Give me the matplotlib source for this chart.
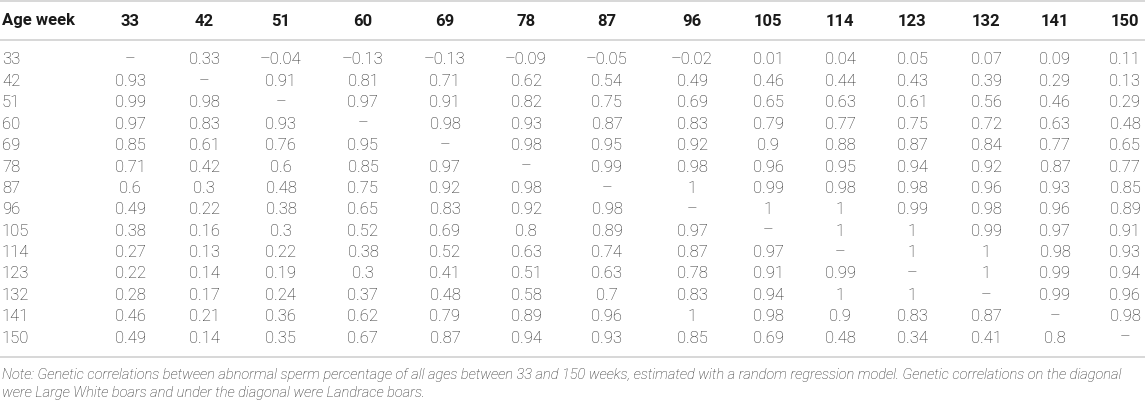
import matplotlib.pyplot as plt
from matplotlib.lines import Line2D

# ages (weeks) used as both row and column headers
ages = [33, 42, 51, 60, 69, 78, 87, 96, 105, 114, 123, 132, 141, 150]

# one list per row; None marks the diagonal
row_33 = [None, 0.33, -0.04, -0.13, -0.13, -0.09, -0.05, -0.02, 0.01, 0.04, 0.05, 0.07, 0.09, 0.11]
row_42 = [0.93, None, 0.91, 0.81, 0.71, 0.62, 0.54, 0.49, 0.46, 0.44, 0.43, 0.39, 0.29, 0.13]
row_51 = [0.99, 0.98, None, 0.97, 0.91, 0.82, 0.75, 0.69, 0.65, 0.63, 0.61, 0.56, 0.46, 0.29]
row_60 = [0.97, 0.83, 0.93, None, 0.98, 0.93, 0.87, 0.83, 0.79, 0.77, 0.75, 0.72, 0.63, 0.48]
row_69 = [0.85, 0.61, 0.76, 0.95, None, 0.98, 0.95, 0.92, 0.9, 0.88, 0.87, 0.84, 0.77, 0.65]
row_78 = [0.71, 0.42, 0.6, 0.85, 0.97, None, 0.99, 0.98, 0.96, 0.95, 0.94, 0.92, 0.87, 0.77]
row_87 = [0.6, 0.3, 0.48, 0.75, 0.92, 0.98, None, 1, 0.99, 0.98, 0.98, 0.96, 0.93, 0.85]
row_96 = [0.49, 0.22, 0.38, 0.65, 0.83, 0.92, 0.98, None, 1, 1, 0.99, 0.98, 0.96, 0.89]
row_105 = [0.38, 0.16, 0.3, 0.52, 0.69, 0.8, 0.89, 0.97, None, 1, 1, 0.99, 0.97, 0.91]
row_114 = [0.27, 0.13, 0.22, 0.38, 0.52, 0.63, 0.74, 0.87, 0.97, None, 1, 1, 0.98, 0.93]
row_123 = [0.22, 0.14, 0.19, 0.3, 0.41, 0.51, 0.63, 0.78, 0.91, 0.99, None, 1, 0.99, 0.94]
row_132 = [0.28, 0.17, 0.24, 0.37, 0.48, 0.58, 0.7, 0.83, 0.94, 1, 1, None, 0.99, 0.96]
row_141 = [0.46, 0.21, 0.36, 0.62, 0.79, 0.89, 0.96, 1, 0.98, 0.9, 0.83, 0.87, None, 0.98]
row_150 = [0.49, 0.14, 0.35, 0.67, 0.87, 0.94, 0.93, 0.85, 0.69, 0.48, 0.34, 0.41, 0.8, None]

rows = [row_33, row_42, row_51, row_60, row_69, row_78, row_87,
        row_96, row_105, row_114, row_123, row_132, row_141, row_150]

note = ("Note: Genetic correlations between abnormal sperm percentage of all ages between 33 and 150 weeks, "
        "estimated with a random regression model. Genetic correlations on the diagonal\n"
        "were Large White boars and under the diagonal were Landrace boars.")


def fmt(v):
    if v is None:
        return "\u2013"
    return f"{v:g}".replace("-", "\u2013")


W, H = 1145, 403
fig = plt.figure(figsize=(W / 100, H / 100), dpi=100)
ax = fig.add_axes([0, 0, 1, 1])
ax.set_xlim(0, W)
ax.set_ylim(H, 0)
ax.axis("off")

font = ["Roboto", "DejaVu Sans"]
col_x = [130, 204, 281, 363, 445, 526, 607, 692, 768, 840, 912, 986, 1055, 1125]
row_y0, row_dy = 60, 21.4
line_col = "#d4d4d4"
body_col = "#262626"

# rules
for y in [1, 40, 357]:
    ax.add_line(Line2D([0, W], [y, y], color=line_col, lw=1.3))

# header
ax.text(2, 21, "Age week", ha="left", va="center", fontsize=12, fontweight="bold",
        color="#1a1a1a", family=font)
for x, a in zip(col_x, ages):
    ax.text(x, 21, str(a), ha="center", va="center", fontsize=12, fontweight="bold",
            color="#1a1a1a", family=font)

# body
for i, (a, r) in enumerate(zip(ages, rows)):
    y = row_y0 + i * row_dy
    ax.text(2, y, str(a), ha="left", va="center", fontsize=12, fontweight="light",
            color=body_col, family=font)
    for x, v in zip(col_x, r):
        ax.text(x, y, fmt(v), ha="center", va="center", fontsize=12, fontweight="light",
                color=body_col, family=font)

ax.text(2, 384, note, ha="left", va="center", fontsize=10.5, style="italic",
        fontweight="light", color=body_col, family=font, linespacing=1.45)

fig.savefig("out.png", dpi=100)
